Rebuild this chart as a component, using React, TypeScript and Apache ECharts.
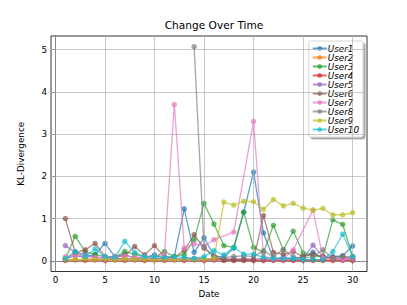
import React, { useEffect, useRef } from "react";
import * as echarts from "echarts";

const dates = [1, 2, 3, 4, 5, 6, 7, 8, 9, 10, 11, 12, 13, 14, 15, 16, 17, 18, 19, 20, 21, 22, 23, 24, 25, 26, 27, 28, 29, 30];
const user7Dates = [1, 2, 3, 4, 5, 6, 7, 8, 9, 10, 11, 12, 13, 14, 15, 16, 18, 20, 21, 22, 23, 24, 26, 27, 28, 29, 30];
const user8Dates = [14, 15, 16, 17, 18, 19, 20, 21, 22, 23, 24, 25, 26, 27, 28, 29, 30];

const user1 = [0.05, 0.12, 0.08, 0.15, 0.41, 0.1, 0.15, 0.05, 0.08, 0.14, 0.05, 0.1, 1.23, 0.2, 0.55, 0.12, 0.08, 0.3, 1.15, 2.1, 0.66, 0.05, 0.08, 0.05, 0.1, 0.2, 0.05, 0.1, 0.12, 0.35];
const user2 = [0.05, 0.2, 0.05, 0.03, 0.04, 0.03, 0.05, 0.03, 0.02, 0.03, 0.04, 0.03, 0.05, 0.03, 0.02, 0.03, 0.04, 0.02, 0.03, 0.02, 0.03, 0.02, 0.03, 0.02, 0.03, 0.02, 0.03, 0.02, 0.03, 0.02];
const user3 = [0.05, 0.58, 0.22, 0.15, 0.1, 0.08, 0.22, 0.15, 0.1, 0.08, 0.22, 0.1, 0.15, 0.5, 1.36, 0.87, 0.36, 0.32, 1.15, 0.32, 0.2, 0.84, 0.26, 0.7, 0.19, 0.12, 0.1, 0.97, 0.86, 0.1];
const user4 = [0.01, 0.02, 0.01, 0.02, 0.01, 0.02, 0.01, 0.02, 0.01, 0.02, 0.01, 0.02, 0.01, 0.02, 0.01, 0.02, 0.01, 0.01, 0.01, 0.01, 0.01, 0.01, 0.01, 0.01, 0.01, 0.01, 0.01, 0.01, 0.01, 0.01];
const user5 = [0.36, 0.2, 0.15, 0.08, 0.05, 0.06, 0.05, 0.04, 0.05, 0.06, 0.05, 0.04, 0.05, 0.06, 0.05, 0.04, 0.05, 0.04, 0.05, 0.04, 0.05, 0.04, 0.05, 0.04, 0.05, 0.37, 0.1, 0.05, 0.04, 0.05];
const user6 = [1.0, 0.19, 0.26, 0.41, 0.1, 0.08, 0.12, 0.34, 0.14, 0.36, 0.1, 0.08, 0.25, 0.62, 0.3, 0.1, 0.02, 0.02, 0.02, 0.02, 1.07, 0.2, 0.15, 0.22, 0.1, 0.15, 0.1, 0.08, 0.1, 0.05];
const user7 = [0.1, 0.12, 0.1, 0.08, 0.1, 0.1, 0.12, 0.08, 0.1, 0.1, 0.15, 3.7, 0.3, 0.4, 0.35, 0.5, 0.68, 3.3, 0.1, 0.05, 0.05, 0.26, 1.2, 0.07, 0.05, 0.03, 0.05];
const user8 = [5.07, 0.33, 0.1, 0.08, 0.1, 0.12, 0.1, 0.24, 0.1, 0.26, 0.1, 0.05, 0.1, 0.26, 0.05, 0.1, 0.1];
const user9 = [0.04, 0.03, 0.04, 0.03, 0.04, 0.03, 0.04, 0.03, 0.04, 0.03, 0.04, 0.03, 0.04, 0.03, 0.04, 0.05, 1.39, 1.32, 1.41, 1.4, 1.22, 1.45, 1.3, 1.36, 1.25, 1.2, 1.24, 1.09, 1.09, 1.14];
const user10 = [0.05, 0.22, 0.1, 0.28, 0.1, 0.08, 0.46, 0.2, 0.1, 0.1, 0.08, 0.1, 0.08, 0.05, 0.1, 0.24, 0.14, 0.32, 0.16, 0.16, 0.08, 0.05, 0.05, 0.05, 0.03, 0.03, 0.03, 0.22, 0.63, 0.1];

const userNames = ["User1", "User2", "User3", "User4", "User5", "User6", "User7", "User8", "User9", "User10"];
const userValues = [user1, user2, user3, user4, user5, user6, user7, user8, user9, user10];
const userDates = [dates, dates, dates, dates, dates, dates, user7Dates, user8Dates, dates, dates];
const colors = ["#1f77b4", "#ff7f0e", "#2ca02c", "#d62728", "#9467bd", "#8c564b", "#e377c2", "#7f7f7f", "#bcbd22", "#17becf"];

const xTicks = [0, 5, 10, 15, 20, 25, 30];
const yTicks = [0, 1, 2, 3, 4, 5];

export default function App() {
  const ref = useRef<HTMLDivElement>(null);
  useEffect(() => {
    if (!ref.current) return;
    const chart = echarts.init(ref.current, undefined, { renderer: "svg" });
    const allVals = userValues.flat();
    const yMaxData = Math.max(...allVals);
    const yMinData = 0;
    const yPad = (yMaxData - yMinData) * 0.05;
    const xPad = (30 - 1) * 0.05;
    const font = "DejaVu Sans";

    const gridSeries: any = {
      type: "line",
      name: "__grid",
      data: [],
      silent: true,
      z: 1,
      markLine: {
        silent: true,
        symbol: "none",
        animation: false,
        label: { show: false },
        lineStyle: { color: "#b0b0b0", width: 0.7, type: "solid" },
        emphasis: { disabled: true },
        data: [
          ...xTicks.map((v) => ({ xAxis: v })),
          ...yTicks.map((v) => ({ yAxis: v })),
        ],
      },
    };

    const dataSeries = userNames.map((name, i) => ({
      type: "line",
      name,
      z: 2 + i,
      data: userValues[i].map((v, j) => [userDates[i][j], v]),
      symbol: "circle",
      symbolSize: 5.5,
      showSymbol: true,
      lineStyle: { width: 1.3, color: colors[i], opacity: 0.7 },
      itemStyle: { color: colors[i], opacity: 0.7 },
      emphasis: { disabled: true },
    }));

    chart.setOption({
      animation: false,
      title: {
        text: "Change Over Time",
        left: 209,
        textAlign: "center",
        top: 14,
        textStyle: { fontFamily: font, fontSize: 10.6, fontWeight: "normal", color: "#000" },
      },
      legend: {
        data: userNames,
        orient: "vertical",
        right: 44,
        top: 41,
        itemWidth: 14,
        itemHeight: 6,
        itemGap: 0,
        padding: [3, 4, 3, 3],
        backgroundColor: "#fff",
        borderColor: "#cccccc",
        borderWidth: 0.8,
        borderRadius: 2,
        shadowColor: "rgba(0,0,0,0.35)",
        shadowBlur: 0,
        shadowOffsetX: 2,
        shadowOffsetY: 2,
        textStyle: { fontFamily: font, fontSize: 8.8, fontStyle: "italic", color: "#000", lineHeight: 8.8, padding: [0, 0, 0, -4] },
      },
      grid: {
        left: 51,
        right: 40,
        top: 36,
        bottom: 33.5,
        show: true,
        borderColor: "#000",
        borderWidth: 0.8,
        backgroundColor: "transparent",
      },
      xAxis: {
        type: "value",
        min: 1 - xPad,
        max: 30 + xPad,
        name: "Date",
        nameLocation: "middle",
        nameGap: 16,
        nameTextStyle: { fontFamily: font, fontSize: 8.8, color: "#000" },
        axisLine: { show: true, lineStyle: { color: "#000", width: 0.8 } },
        axisTick: { show: true, length: 3, lineStyle: { color: "#000", width: 0.8 }, customValues: xTicks },
        axisLabel: { fontFamily: font, fontSize: 8.8, color: "#000", margin: 4, customValues: xTicks, formatter: (v: number) => String(v) },
        splitLine: { show: false },
      },
      yAxis: {
        type: "value",
        min: yMinData - yPad,
        max: yMaxData + yPad,
        name: "KL-Divergence",
        nameLocation: "middle",
        nameGap: 26,
        nameTextStyle: { fontFamily: font, fontSize: 8.8, color: "#000" },
        axisLine: { show: true, lineStyle: { color: "#000", width: 0.8 } },
        axisTick: { show: true, length: 3, lineStyle: { color: "#000", width: 0.8 }, customValues: yTicks },
        axisLabel: { fontFamily: font, fontSize: 8.8, color: "#000", margin: 4, customValues: yTicks, formatter: (v: number) => String(v) },
        splitLine: { show: false },
      },
      series: [gridSeries, ...dataSeries],
    });
    return () => chart.dispose();
  }, []);
  return <div ref={ref} style={{ width: 407, height: 305, margin: -8 }} />;
}
